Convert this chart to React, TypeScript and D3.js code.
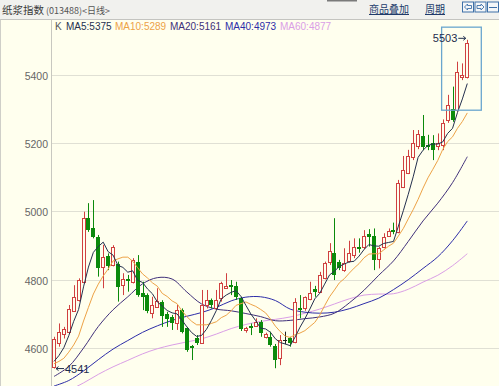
import React from 'react';
import * as d3 from 'd3';

const W = 499;
const H = 386;

// ---- data ----
const opens = [4546,4615,4642,4649,4710,4742,4795,4981,4951,4927,4839,4870,4845,4847,4785,4803,4795,4854,4763,4756,4704,4722,4737,4700,4693,4673,4712,4659,4607,4629,4615,4727,4741,4718,4747,4776,4785,4783,4747,4653,4665,4666,4678,4633,4634,4607,4571,4624,4629,4620,4717,4717,4744,4773,4766,4805,4854,4880,4854,4829,4857,4873,4898,4898,4934,4929,4863,4898,4929,4946,4941,5073,5112,5161,5192,5222,5195,5200,5192,5195,5268,5300,5297,5395,5395];
const highs = [4634,4673,4663,4727,4785,4805,5000,5025,5034,4932,4903,4878,4902,4854,4820,4815,4864,4873,4795,4761,4751,4776,4741,4707,4698,4727,4717,4663,4610,4639,4771,4771,4746,4771,4795,4820,4800,4795,4751,4663,4673,4688,4683,4646,4649,4613,4639,4649,4634,4747,4756,4752,4795,4783,4824,4854,4908,4981,4859,4893,4915,4922,4922,4946,4949,4951,4898,4937,4951,4968,5093,5163,5181,5239,5239,5283,5225,5224,5229,5270,5342,5366,5439,5434,5503];
const lows = [4541,4605,4629,4644,4707,4737,4790,4941,4922,4810,4776,4829,4840,4737,4756,4766,4790,4751,4712,4703,4688,4722,4663,4663,4654,4654,4644,4590,4566,4610,4613,4717,4717,4712,4737,4776,4756,4742,4651,4646,4639,4663,4634,4629,4605,4542,4551,4612,4605,4615,4688,4710,4741,4751,4763,4802,4844,4800,4829,4824,4851,4864,4880,4890,4898,4829,4834,4893,4927,4934,4937,5069,5110,5151,5183,5180,5180,5151,5180,5180,5260,5263,5293,5385,5390];
const closes = [4627,4649,4656,4714,4749,4800,4981,4946,4927,4834,4867,4841,4896,4779,4802,4798,4859,4756,4749,4710,4727,4739,4695,4685,4673,4712,4649,4595,4600,4617,4727,4741,4727,4741,4790,4783,4780,4751,4656,4659,4660,4678,4644,4642,4610,4566,4624,4624,4615,4737,4712,4749,4761,4766,4815,4849,4886,4815,4834,4851,4878,4898,4890,4929,4925,4859,4893,4927,4944,4941,5083,5122,5163,5200,5227,5190,5190,5181,5200,5260,5312,5268,5410,5400,5493];

// moving averages, one value per bar
const ma5 = [4562,4579,4602,4637,4679,4714,4780,4838,4881,4898,4911,4883,4873,4843,4837,4823,4827,4799,4793,4774,4760,4736,4724,4711,4704,4701,4683,4663,4646,4635,4638,4656,4682,4711,4745,4756,4764,4769,4752,4726,4701,4681,4659,4657,4647,4628,4617,4613,4608,4633,4662,4687,4715,4745,4761,4788,4815,4826,4840,4847,4853,4855,4870,4889,4904,4900,4899,4907,4910,4913,4958,5003,5051,5102,5159,5180,5194,5198,5198,5204,5229,5244,5290,5330,5375];
const ma10 = [4555,4562,4571,4589,4610,4636,4680,4720,4759,4788,4812,4832,4856,4862,4867,4867,4855,4836,4818,4806,4792,4782,4761,4752,4739,4731,4710,4693,4679,4669,4669,4669,4673,4678,4690,4697,4710,4726,4731,4736,4729,4723,4714,4704,4686,4665,4649,4636,4632,4640,4645,4652,4664,4676,4697,4725,4751,4771,4792,4804,4820,4835,4848,4865,4876,4877,4877,4888,4899,4908,4929,4951,4979,5006,5036,5069,5099,5124,5150,5182,5205,5219,5244,5264,5289];
// slower averages, read every 3rd bar
const maStep = 3;
const ma20 = [4518,4547,4601,4664,4713,4751,4789,4807,4803,4765,4730,4715,4710,4702,4693,4681,4682,4687,4692,4703,4733,4770,4814,4856,4913,4973,5025,5085,5161];
const ma40 = [4490,4506,4534,4567,4598,4623,4647,4666,4682,4694,4705,4720,4739,4750,4751,4740,4715,4706,4703,4706,4716,4731,4747,4772,4801,4834,4868,4915,4973];
const ma60 = [4465,4478,4499,4524,4546,4565,4584,4599,4610,4619,4628,4642,4658,4670,4679,4685,4692,4703,4715,4730,4745,4756,4759,4760,4773,4794,4814,4842,4877];

const yTicks = [4600, 4800, 5000, 5200, 5400];
const titleName = '纸浆指数';
const titleCode = '(013488)<日线>';
const headerLinks = ['商品叠加', '周期'];
const boxFrom = 80;
const boxTo = 84;
const boxHigh = 5540;
const boxLow = 5297;

const BG = '#FFFFEE';
const RED = '#D04040';
const GREEN = '#0B8A0B';
const C5 = '#24304E';
const C10 = '#EDA246';
const C20 = '#40307A';
const C40 = '#2D2DA8';
const C60 = '#DA9EE6';

const plotLeft = 52;
const plotTop = 20;

export default function App() {
  const n = closes.length;
  const x = d3.scaleLinear().domain([0, n - 1]).range([54, 467.3]);
  const y = d3.scaleLinear().domain([4600, 5400]).range([348.4, 75]);

  const lineDaily = d3.line<number>().x((_, i) => x(i)).y((d) => y(d));
  const lineSampled = d3
    .line<number>()
    .x((_, i) => x(i * maStep))
    .y((d) => y(d))
    .curve(d3.curveCatmullRom.alpha(0.5));

  const hiIdx = d3.maxIndex(highs);
  const loIdx = d3.minIndex(lows);

  const font = '"Liberation Sans", Arial, sans-serif';
  const cjk = '"Noto Sans CJK SC", "Liberation Sans", sans-serif';

  const legend = [
    { t: `MA5:${ma5[n - 1]}`, c: C5, x: 66 },
    { t: `MA10:${ma10[n - 1]}`, c: C10, x: 115 },
    { t: `MA20:${ma20[ma20.length - 1]}`, c: C20, x: 170 },
    { t: `MA40:${ma40[ma40.length - 1]}`, c: C40, x: 225 },
    { t: `MA60:${ma60[ma60.length - 1]}`, c: C60, x: 280 },
  ];

  const candles = closes.map((c, i) => {
    const o = opens[i];
    const px = Math.round(x(i));
    const cx = px + 0.5;
    const yt = Math.round(y(Math.max(o, c)));
    const yb = Math.round(y(Math.min(o, c)));
    const up = c > o;
    const flat = c === o;
    const col = flat ? '#222' : up ? RED : GREEN;
    return (
      <g key={i}>
        <line x1={cx} x2={cx} y1={y(highs[i])} y2={y(lows[i])} stroke={col} strokeWidth={1} />
        {flat ? (
          <line x1={px - 2} x2={px + 2} y1={yt + 0.5} y2={yt + 0.5} stroke={col} strokeWidth={1} />
        ) : up ? (
          <rect x={px - 1.5} y={yt + 0.5} width={3} height={Math.max(yb - yt, 1)} fill={BG} stroke={col} strokeWidth={1} />
        ) : (
          <rect x={px - 2} y={yt} width={4} height={Math.max(yb - yt, 1)} fill={col} />
        )}
      </g>
    );
  });

  const hx = x(hiIdx);
  const hy = y(highs[hiIdx]);
  const lx = x(loIdx);
  const ly = y(lows[loIdx]);

  const btnY = 1.5;
  const btns = [462, 474.5, 487];

  return (
    <svg width={W} height={H} style={{ position: 'absolute', left: 0, top: 0, display: 'block' }}>
      <defs>
        <clipPath id="plot">
          <rect x={plotLeft} y={plotTop} width={W - plotLeft} height={H - plotTop} />
        </clipPath>
      </defs>
      <rect x={0} y={0} width={W} height={H} fill={BG} />
      {/* header */}
      <rect x={0} y={0} width={W} height={19} fill="#F1F1EE" />
      <line x1={0} x2={W} y1={19.5} y2={19.5} stroke="#C4C4C0" />
      <rect x={327} y={0} width={30} height={1.5} fill="#7A7A7A" />
      <text x={2} y={14} fontFamily={cjk} fontSize={10.5} fill="#3A3A3A">
        {titleName}
        <tspan fontSize={9} dx={2} fill="#555">{titleCode}</tspan>
      </text>
      {headerLinks.map((t, i) => {
        const tx = i === 0 ? 369 : 425;
        const tw = i === 0 ? 40 : 20;
        return (
          <g key={t}>
            <text x={tx} y={13} fontFamily={cjk} fontSize={10} fill="#203A6A">{t}</text>
            <line x1={tx} x2={tx + tw} y1={14.5} y2={14.5} stroke="#203A6A" strokeWidth={1} />
          </g>
        );
      })}
      {btns.map((bx, i) => (
        <g key={i}>
          <rect x={bx + 0.5} y={btnY + 0.5} width={11} height={10} fill="#F4F6F8" stroke="#3E70A8" />
          {i === 0 && (
            <path d={`M${bx + 2.5},${btnY + 5.5} L${bx + 5.5},${btnY + 2.5} L${bx + 5.5},${btnY + 4} L${bx + 9.5},${btnY + 4} L${bx + 9.5},${btnY + 7} L${bx + 5.5},${btnY + 7} L${bx + 5.5},${btnY + 8.5} Z`} fill="none" stroke="#3E70A8" strokeWidth={0.9} />
          )}
          {i === 1 && (
            <path d={`M${bx + 9.5},${btnY + 5.5} L${bx + 6.5},${btnY + 2.5} L${bx + 6.5},${btnY + 4} L${bx + 2.5},${btnY + 4} L${bx + 2.5},${btnY + 7} L${bx + 6.5},${btnY + 7} L${bx + 6.5},${btnY + 8.5} Z`} fill="none" stroke="#3E70A8" strokeWidth={0.9} />
          )}
          {i === 2 && <line x1={bx + 2} x2={bx + 10} y1={btnY + 6} y2={btnY + 6} stroke="#3E70A8" />}
        </g>
      ))}
      {/* frame */}
      <line x1={0.5} x2={0.5} y1={19.5} y2={H} stroke="#CFCFC8" />
      <line x1={plotLeft - 0.5} x2={plotLeft - 0.5} y1={19.5} y2={H} stroke="#C8C8C0" />
      {/* grid + y labels */}
      {yTicks.map((t) => {
        const gy = Math.floor(y(t)) + 0.5;
        return (
          <g key={t}>
            <line x1={plotLeft} x2={W} y1={gy} y2={gy} stroke="#E0E0D4" />
            <text x={48} y={gy + 4} textAnchor="end" fontFamily={font} fontSize={10.5} fill="#666">{t}</text>
          </g>
        );
      })}
      {/* legend */}
      <text x={55} y={29.5} fontFamily={font} fontSize={10} fill="#555">K</text>
      {legend.map((l) => (
        <text key={l.t} x={l.x} y={29.5} fontFamily={font} fontSize={10} fill={l.c}>{l.t}</text>
      ))}
      <g clipPath="url(#plot)">
        <path d={lineSampled(ma60) || ''} fill="none" stroke={C60} strokeWidth={1} />
        <path d={lineSampled(ma40) || ''} fill="none" stroke={C40} strokeWidth={1} />
        <path d={lineSampled(ma20) || ''} fill="none" stroke={C20} strokeWidth={1} />
        {candles}
        <path d={lineDaily(ma10) || ''} fill="none" stroke={C10} strokeWidth={1} />
        <path d={lineDaily(ma5) || ''} fill="none" stroke={C5} strokeWidth={1} />
        {/* highlight box */}
        <rect
          x={x(boxFrom) - 6}
          y={y(boxHigh)}
          width={x(boxTo) - x(boxFrom) + 20}
          height={y(boxLow) - y(boxHigh)}
          fill="none"
          stroke="#6AA6CE"
          strokeWidth={1.3}
        />
        {/* max / min annotations */}
        <text x={hx - 10} y={hy + 2} textAnchor="end" fontFamily={font} fontSize={11} fill="#1E2C4C">{highs[hiIdx]}</text>
        <line x1={hx - 9} x2={hx - 2} y1={hy - 1.5} y2={hy - 1.5} stroke="#1E2C4C" />
        <path d={`M${hx - 4},${hy - 3.5} L${hx - 1.5},${hy - 1.5} L${hx - 4},${hy + 0.5}`} fill="none" stroke="#1E2C4C" />
        <line x1={lx + 2} x2={lx + 10} y1={ly} y2={ly} stroke="#1E2C4C" />
        <path d={`M${lx + 4.5},${ly - 2} L${lx + 2},${ly} L${lx + 4.5},${ly + 2}`} fill="none" stroke="#1E2C4C" />
        <text x={lx + 11} y={ly + 4} fontFamily={font} fontSize={11} fill="#1E2C4C">{lows[loIdx]}</text>
      </g>
    </svg>
  );
}
